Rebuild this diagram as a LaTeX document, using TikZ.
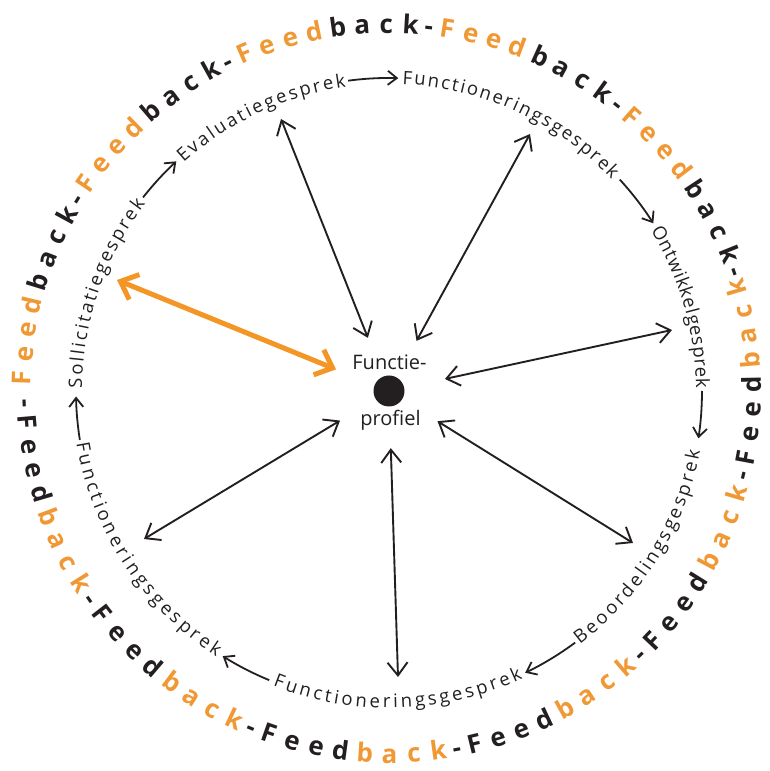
\documentclass[tikz,border=0pt]{standalone}
\usepackage{fontspec}
\setmainfont{Open Sans}
\usetikzlibrary{arrows.meta,decorations.text}
\definecolor{fo}{RGB}{240,152,52}
\definecolor{fk}{RGB}{35,31,32}
\definecolor{arrorange}{RGB}{243,150,38}
\newcommand\lblfont{\fontsize{18.5}{18.5}\selectfont}
\begin{document}
\begin{tikzpicture}[x=1pt,y=1pt,
  outer/.style={anchor=base, inner sep=0pt, font=\bfseries\fontsize{26}{26}\selectfont},
  radial/.style={draw=fk, line width=1.9pt, {Straight Barb[length=13pt,width=20pt]}-{Straight Barb[length=13pt,width=20pt]}},
  hot/.style={draw=arrorange, line width=5pt, {Straight Barb[length=15pt,width=27pt]}-{Straight Barb[length=15pt,width=27pt]}},
  cyc/.style={draw=fk, line width=1.8pt, -{Straight Barb[length=9pt,width=14pt]}},
  lblout/.style={decorate, decoration={text along path, text align=fit to path, text={|\lblfont\color{fk}|#1}}},
  ctext/.style={anchor=base, inner sep=0pt, text=fk, font=\fontsize{20}{20}\selectfont}
]
\useasboundingbox (0,0) rectangle (769,771);
\begin{scope}[shift={(389,380)}]
% outer ring, upper half
\foreach \rep in {0,...,4}{
  \foreach \ch/\col/\off [count=\k] in {F/fo/0,e/fo/1,e/fo/2,d/fo/3,b/fk/4,a/fk/5,c/fk/6,k/fk/7,-/fk/7.75}{
    \pgfmathsetmacro\ang{178-(\rep*8.5+\off)*3.808}
    \node[outer, text=\col, rotate=\ang-90] (ta\rep\k) at (\ang:358pt) {\ch};
  }
}
% outer ring, lower half
\foreach \rep in {0,...,5}{
  \foreach \ch/\col/\off [count=\k] in {-/fk/0,F/fk/0.75,e/fk/1.75,e/fk/2.75,d/fk/3.75,b/fo/4.75,a/fo/5.75,c/fo/6.75,k/fo/7.75}{
    \pgfmathsetmacro\ang{182+(\rep*8.5+\off)*3.871}
    \node[outer, text=\col, rotate=\ang+90] (tb\rep\k) at (\ang:372pt) {\ch};
  }
}
% inner ring labels
\path[lblout=Sollicitatiegesprek] (179.5:307pt) arc[start angle=179.5, end angle=142.5, radius=307pt];
\path[lblout=Evaluatiegesprek] (132:307pt) arc[start angle=132, end angle=98, radius=307pt];
\path[lblout=Functioneringsgesprek] (87.5:307pt) arc[start angle=87.5, end angle=43.5, radius=307pt];
\path[lblout=Ontwikkelgesprek] (31.5:307pt) arc[start angle=31.5, end angle=0.5, radius=307pt];
\path[lblout=Beoordelingsgesprek] (307:317pt) arc[start angle=307, end angle=349, radius=317pt];
\path[lblout=Functioneringsgesprek] (248.5:317pt) arc[start angle=248.5, end angle=295, radius=317pt];
\path[lblout=Functioneringsgesprek] (189.5:317pt) arc[start angle=189.5, end angle=237, radius=317pt];
% cycle arrows
\coordinate (c1) at (189:313pt);
\coordinate (c2) at (141.8:313pt);
\coordinate (c3) at (97.5:313pt);
\coordinate (c4) at (42.5:313pt);
\coordinate (c5) at (0:313pt);
\coordinate (c6) at (-53.5:313pt);
\coordinate (c7) at (247.5:313pt);
\draw[cyc] (c1) arc[start angle=189, end angle=181, radius=313pt];
\draw[cyc] (c2) arc[start angle=141.8, end angle=132.8, radius=313pt];
\draw[cyc] (c3) arc[start angle=97.5, end angle=88.3, radius=313pt];
\draw[cyc] (c4) arc[start angle=42.5, end angle=32.4, radius=313pt];
\draw[cyc] (c5) arc[start angle=0, end angle=-8.7, radius=313pt];
\draw[cyc] (c6) arc[start angle=-53.5, end angle=-64.2, radius=313pt];
\draw[cyc] (c7) arc[start angle=247.5, end angle=237.9, radius=313pt];
% centre
\node[circle, fill=fk, minimum size=31pt, inner sep=0pt] (dot) at (0,0) {};
\node[circle, minimum size=114pt, inner sep=0pt] (hub) at (0,0) {};
\node[ctext] (ft) at (0.5,21) {Functie-};
\node[ctext] (pf) at (1.5,-35) {profiel};
% radial arrows
\coordinate (o1) at (-272,111);
\coordinate (o2) at (-108,272);
\coordinate (o3) at (141,257);
\coordinate (o4) at (283,61);
\coordinate (o5) at (244,-152);
\coordinate (o6) at (9,-286);
\coordinate (o7) at (-245,-148);
\draw[hot] (o1) -- (hub);
\foreach \i in {2,...,7}{
  \draw[radial] (o\i) -- (hub);
}
\end{scope}
\end{tikzpicture}
\end{document}
